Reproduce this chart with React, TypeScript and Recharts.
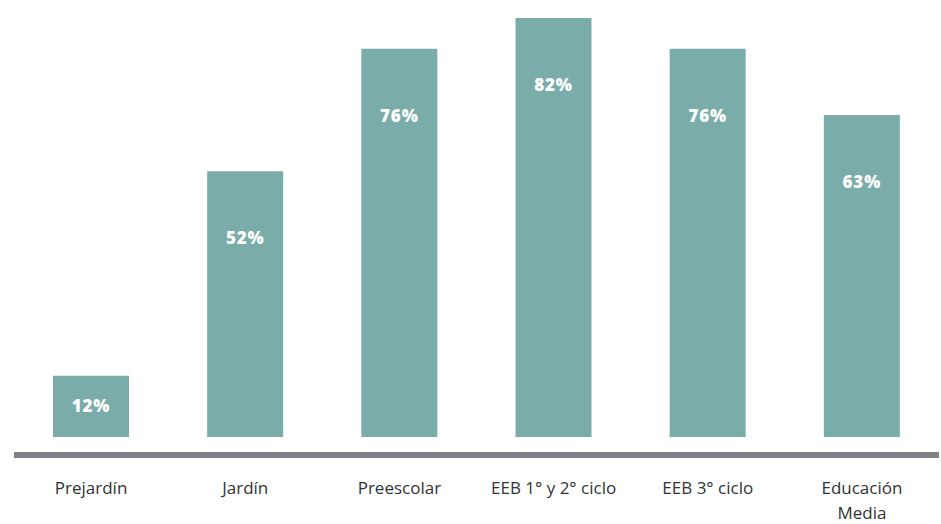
import { BarChart, Bar, XAxis, YAxis, ReferenceLine, LabelList } from "recharts"

// categories / values
const categories = [
  "Prejardín",
  "Jardín",
  "Preescolar",
  "EEB 1° y 2° ciclo",
  "EEB 3° ciclo",
  "Educación Media",
]
const tickLines = [
  ["Prejardín"],
  ["Jardín"],
  ["Preescolar"],
  ["EEB 1° y 2° ciclo"],
  ["EEB 3° ciclo"],
  ["Educación", "Media"],
]
const values = [12, 52, 76, 82, 76, 63]

const data = categories.map((name, i) => ({ name, value: values[i] }))

const BAR_COLOR = "#7aadaa"
const AXIS_COLOR = "#808084"

/* ---------------------------------
   Ticks + labels
---------------------------------- */
function CategoryTick({ x, y, index }: { x?: number; y?: number; index?: number }) {
  const lines = tickLines[index ?? 0] ?? []
  return (
    <g>
      {lines.map((line, i) => (
        <text
          key={i}
          x={x}
          y={(y ?? 0) + 31 + i * 25}
          textAnchor="middle"
          fill="#333"
          fontSize={17}
          fontFamily="'Open Sans', sans-serif"
        >
          {line}
        </text>
      ))}
    </g>
  )
}

function ValueLabel(props: any) {
  const { x, y, width, height, value } = props
  const cy = y + Math.min(67, height / 2)
  return (
    <text
      x={x + width / 2}
      y={cy}
      dy={6}
      textAnchor="middle"
      fill="#fff"
      fontSize={17}
      fontWeight={800}
      letterSpacing={0.8}
      fontFamily="'Open Sans', sans-serif"
    >
      {value}%
    </text>
  )
}

/* ---------------------------------
   App
---------------------------------- */
export default function App() {
  return (
    <div style={{ position: "absolute", left: 0, top: 0, width: 941, height: 524, background: "#fff" }}>
      <BarChart
        width={941}
        height={524}
        data={data}
        margin={{ top: 18, right: 2, bottom: 0, left: 14 }}
        barCategoryGap={0}
      >
        <YAxis hide domain={[-3.5, "dataMax"]} />
        <XAxis
          dataKey="name"
          height={69}
          axisLine={false}
          tickLine={false}
          tick={<CategoryTick />}
          interval={0}
        />
        <ReferenceLine y={-3.5} stroke={AXIS_COLOR} strokeWidth={6} />
        <Bar dataKey="value" fill={BAR_COLOR} barSize={76} isAnimationActive={false}>
          <LabelList dataKey="value" content={<ValueLabel />} />
        </Bar>
      </BarChart>
    </div>
  )
}
